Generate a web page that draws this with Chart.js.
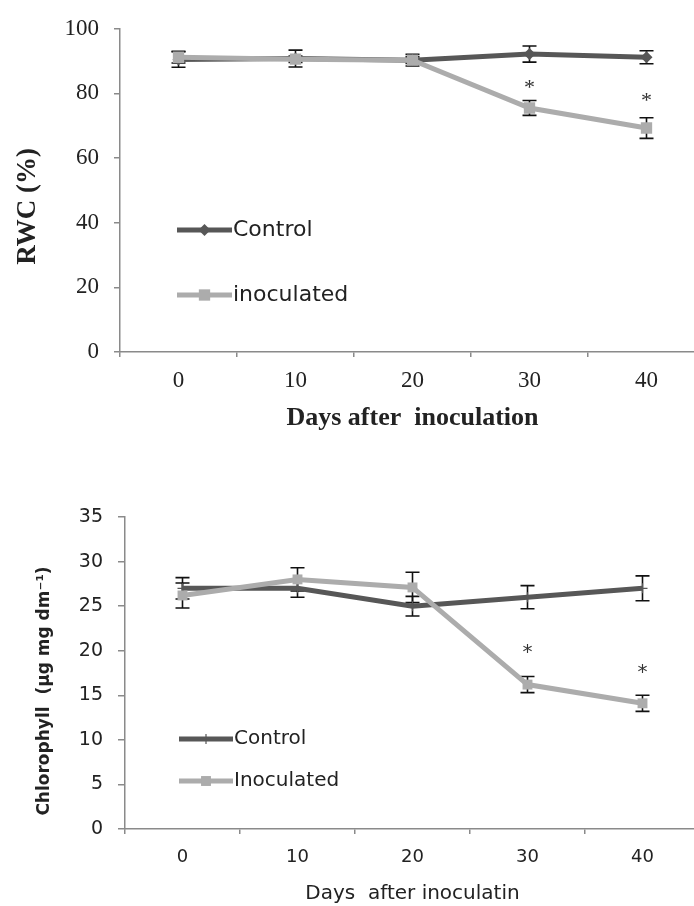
<!DOCTYPE html>
<html>
<head>
<meta charset="utf-8">
<title>RWC and chlorophyll after inoculation</title>
<script src="https://cdn.jsdelivr.net/npm/chart.js@4.4.1/dist/chart.umd.min.js"></script>
<style>
  html, body { margin: 0; padding: 0; background: #fff; overflow: hidden; }
  body { width: 694px; height: 906px; position: relative; }
  canvas { position: absolute; left: 0; }
  #rwc-chart { top: 0; }
  #chl-chart { top: 480px; }
</style>
</head>
<body>
<canvas id="rwc-chart" width="720" height="440"></canvas>
<canvas id="chl-chart" width="720" height="426"></canvas>
<script>
// x categories (days after inoculation)
const days = ['0', '10', '20', '30', '40'];

// RWC (%) - top panel
const rwcControl = [90.5, 90.8, 90.3, 92.2, 91.2];
const rwcControlErr = [2.4, 2.6, 1.8, 2.5, 2.0];
const rwcInoculated = [91.2, 90.6, 90.3, 75.5, 69.3];
const rwcInoculatedErr = [1.8, 1.0, 1.0, 2.3, 3.2];
const rwcStars = [null, null, null, 83, 79];
const rwcTicks = [0, 20, 40, 60, 80, 100];

// Chlorophyll - bottom panel
const chlControl = [27.0, 27.0, 25.0, 26.0, 27.0];
const chlControlErr = [1.2, 1.0, 1.1, 1.3, 1.4];
const chlInoculated = [26.2, 28.0, 27.1, 16.2, 14.1];
const chlInoculatedErr = [1.4, 1.3, 1.7, 0.9, 0.9];
const chlStars = [null, null, null, 20.3, 18.0];
const chlTicks = [0, 5, 10, 15, 20, 25, 30, 35];

const darkGrey = '#575757';
const lightGrey = '#acacac';
const axisGrey = '#8a8a8a';
const textColor = '#222';

// error bars under the lines, asterisks on top
const errorBars = {
  id: 'errorBars',
  beforeDatasetsDraw(chart, args, opts) {
    const { ctx, scales: { y } } = chart;
    ctx.save();
    ctx.strokeStyle = '#111';
    ctx.lineWidth = 1.6;
    chart.data.datasets.forEach((ds, i) => {
      if (!ds.errors) return;
      chart.getDatasetMeta(i).data.forEach((pt, j) => {
        const hi = y.getPixelForValue(ds.data[j] + ds.errors[j]);
        const lo = y.getPixelForValue(ds.data[j] - ds.errors[j]);
        ctx.beginPath();
        ctx.moveTo(pt.x, hi); ctx.lineTo(pt.x, lo);
        ctx.moveTo(pt.x - opts.cap, hi); ctx.lineTo(pt.x + opts.cap, hi);
        ctx.moveTo(pt.x - opts.cap, lo); ctx.lineTo(pt.x + opts.cap, lo);
        ctx.stroke();
      });
    });
    ctx.restore();
  },
  afterDatasetsDraw(chart, args, opts) {
    const { ctx, scales: { x, y } } = chart;
    ctx.save();
    ctx.fillStyle = '#333';
    ctx.font = opts.starFont;
    ctx.textAlign = 'center';
    ctx.textBaseline = 'alphabetic';
    opts.stars.forEach((v, j) => {
      if (v == null) return;
      const m = ctx.measureText('*');
      const cy = y.getPixelForValue(v) + (m.actualBoundingBoxAscent - m.actualBoundingBoxDescent) / 2;
      ctx.fillText('*', x.getPixelForValue(j), cy);
    });
    ctx.restore();
  }
};

function marker(ctx, style, r, cx, cy) {
  ctx.beginPath();
  if (style === 'rectRot') {
    ctx.moveTo(cx, cy - r); ctx.lineTo(cx + r, cy); ctx.lineTo(cx, cy + r); ctx.lineTo(cx - r, cy);
    ctx.closePath(); ctx.fill();
  } else if (style === 'rect') {
    const s = r * Math.SQRT1_2;
    ctx.fillRect(cx - s, cy - s, 2 * s, 2 * s);
  } else if (style === 'cross') {
    ctx.lineWidth = 1.2;
    ctx.moveTo(cx, cy - r); ctx.lineTo(cx, cy + r);
    ctx.stroke();
  }
}

// legend drawn inside the plot, left side
const insideLegend = {
  id: 'insideLegend',
  afterDraw(chart, args, opts) {
    const { ctx } = chart;
    ctx.save();
    chart.data.datasets.forEach((ds, i) => {
      const ly = opts.ys[i];
      ctx.strokeStyle = ds.borderColor;
      ctx.fillStyle = ds.borderColor;
      ctx.lineWidth = ds.borderWidth;
      ctx.beginPath();
      ctx.moveTo(opts.x0, ly); ctx.lineTo(opts.x1, ly);
      ctx.stroke();
      marker(ctx, ds.pointStyle, ds.pointRadius, (opts.x0 + opts.x1) / 2, ly);
      ctx.fillStyle = textColor;
      ctx.font = opts.font;
      ctx.textAlign = 'left';
      ctx.textBaseline = 'middle';
      ctx.fillText(ds.label, opts.x1 + 1, ly);
    });
    ctx.restore();
  }
};

// rotated y title, sits a bit below the middle of the axis like the original
const yTitle = {
  id: 'yTitle',
  afterDraw(chart, args, opts) {
    const { ctx, chartArea } = chart;
    ctx.save();
    ctx.translate(opts.x, (chartArea.top + chartArea.bottom) / 2 + opts.shift);
    ctx.rotate(-Math.PI / 2);
    ctx.font = opts.font;
    ctx.fillStyle = textColor;
    ctx.textAlign = 'center';
    ctx.textBaseline = 'middle';
    ctx.fillText(opts.text, 0, 0);
    ctx.restore();
  }
};

function makeChart(id, cfg) {
  return new Chart(document.getElementById(id), {
    type: 'line',
    data: {
      labels: days,
      datasets: [
        {
          label: 'Control', data: cfg.control, errors: cfg.controlErr, order: 1,
          borderColor: darkGrey, backgroundColor: darkGrey, borderWidth: 5,
          pointStyle: cfg.controlPoint, pointRadius: cfg.controlRadius,
          pointBackgroundColor: darkGrey, pointBorderColor: darkGrey, pointBorderWidth: cfg.controlPointBorder,
          tension: 0
        },
        {
          label: cfg.inocLabel, data: cfg.inoc, errors: cfg.inocErr, order: 0,
          borderColor: lightGrey, backgroundColor: lightGrey, borderWidth: 5,
          pointStyle: 'rect', pointRadius: cfg.inocRadius,
          pointBackgroundColor: lightGrey, pointBorderColor: lightGrey, pointBorderWidth: 0,
          tension: 0
        }
      ]
    },
    options: {
      responsive: false,
      animation: false,
      devicePixelRatio: 1,
      layout: { padding: cfg.padding },
      scales: {
        x: {
          offset: true,
          afterFit(s) { s.height = cfg.xHeight; },
          border: { color: axisGrey, width: 1.5 },
          grid: { offset: true, drawOnChartArea: false, tickLength: 5, color: axisGrey, lineWidth: 1.5 },
          ticks: { padding: cfg.xTickPad, color: textColor, maxRotation: 0, font: cfg.xTickFont },
          title: { display: true, text: cfg.xTitle, color: textColor, font: cfg.xTitleFont, padding: { top: 0, bottom: cfg.xTitlePad } }
        },
        y: {
          min: cfg.yTicks[0], max: cfg.yTicks[cfg.yTicks.length - 1],
          afterFit(s) { s.width = cfg.yWidth; },
          afterBuildTicks(s) { s.ticks = cfg.yTicks.map(v => ({ value: v })); },
          border: { color: axisGrey, width: 1.5 },
          grid: { drawOnChartArea: false, tickLength: cfg.yTickLen, color: axisGrey, lineWidth: 1.5 },
          ticks: { padding: cfg.yTickPad, color: textColor, font: cfg.yTickFont }
        }
      },
      plugins: {
        legend: { display: false },
        tooltip: { enabled: false },
        errorBars: { cap: 7, stars: cfg.stars, starFont: cfg.starFont },
        insideLegend: cfg.legend,
        yTitle: cfg.yTitle
      }
    },
    plugins: [errorBars, insideLegend, yTitle]
  });
}

makeChart('rwc-chart', {
  control: rwcControl, controlErr: rwcControlErr,
  inoc: rwcInoculated, inocErr: rwcInoculatedErr, inocLabel: 'inoculated',
  controlPoint: 'rectRot', controlRadius: 6, controlPointBorder: 0, inocRadius: 8,
  stars: rwcStars, starFont: '22px "Liberation Serif"',
  yTicks: rwcTicks,
  padding: { top: 22, right: 15, left: 0, bottom: 0 },
  xHeight: 88, yWidth: 120, yTickLen: 6,
  xTickPad: 10, yTickPad: 15,
  xTickFont: { family: 'Liberation Serif', size: 23 },
  yTickFont: { family: 'Liberation Serif', size: 23 },
  xTitle: 'Days after  inoculation',
  xTitleFont: { family: 'Liberation Serif', size: 26, weight: 'bold' }, xTitlePad: 6,
  yTitle: { text: 'RWC (%)', x: 28, shift: 16, font: 'bold 27px "Liberation Serif"' },
  legend: { x0: 177, x1: 232, ys: [230, 295], font: '22px "DejaVu Sans"' }
});

makeChart('chl-chart', {
  control: chlControl, controlErr: chlControlErr,
  inoc: chlInoculated, inocErr: chlInoculatedErr, inocLabel: 'Inoculated',
  controlPoint: 'cross', controlRadius: 5, controlPointBorder: 1.2, inocRadius: 7,
  stars: chlStars, starFont: '20px "DejaVu Sans"',
  yTicks: chlTicks,
  padding: { top: 37, right: 20, left: 0, bottom: 0 },
  xHeight: 77, yWidth: 125, yTickLen: 7,
  xTickPad: 13, yTickPad: 15,
  xTickFont: { family: 'DejaVu Sans', size: 18 },
  yTickFont: { family: 'DejaVu Sans', size: 19 },
  xTitle: 'Days  after inoculatin',
  xTitleFont: { family: 'DejaVu Sans', size: 20 }, xTitlePad: 0,
  yTitle: { text: 'Chlorophyll  (\u00b5g mg dm\u207b\u00b9)', x: 45, shift: 18, font: 'bold 17px "DejaVu Sans"' },
  legend: { x0: 179, x1: 233, ys: [259, 301], font: '20px "DejaVu Sans"' }
});
</script>
</body>
</html>
